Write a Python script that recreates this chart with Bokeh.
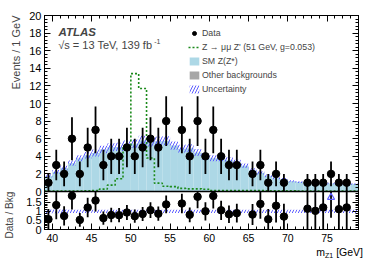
import numpy as np
from bokeh.plotting import figure
from bokeh.models import (ColumnDataSource, FixedTicker, LinearAxis, Range1d,
                          Label, Legend, LegendItem, Span, Title, Div,
                          CustomLabelingPolicy)
from bokeh.layouts import column
from bokeh.embed import file_html
from bokeh.resources import INLINE

# ---------------- data (1 GeV bins, lower edges) ----------------
bin_low = list(range(39, 79))
data_counts = [1, 3, 2, 6, 2, 5, 7, 3, 4, 4,
               5, 4, 5, 6, 5, 8, 0, 7, 4, 8,
               4, 7, 4, 3, 3, 0, 2, 3, 1, 2,
               1, 0, 0, 1, 1, 1, 2, 1, 1, 0]
sm_zz = [1.75, 2.2, 2.65, 3.2, 3.75, 4.1, 4.35, 4.75, 5.0, 5.05,
         5.3, 5.4, 5.8, 5.6, 5.7, 5.75, 5.2, 4.85, 4.9, 4.4,
         3.95, 3.75, 3.75, 3.55, 3.3, 2.9, 2.4, 2.1, 1.75, 1.5,
         1.38, 1.15, 1.05, 0.85, 0.95, 0.8, 0.88, 0.87, 0.8, 0.83]
other_bkg = [0.02, 0.02, 0.02, 0.02, 0.02, 0.02, 0.02, 0.02, 0.02, 0.02,
             0.02, 0.02, 0.02, 0.02, 0.02, 0.02, 0.02, 0.02, 0.02, 0.02,
             0.02, 0.02, 0.02, 0.02, 0.02, 0.02, 0.02, 0.02, 0.02, 0.02,
             0.02, 0.02, 0.02, 0.02, 0.02, 0.02, 0.02, 0.02, 0.02, 0.02]
signal_zp = [0.05, 0.05, 0.05, 0.05, 0.05, 0.07, 0.1, 0.27, 0.72, 1.45,
             5.1, 13.4, 11.7, 3.8, 0.95, 0.6, 0.55, 0.35, 0.3, 0.3,
             0.25, 0.12, 0.1, 0.1, 0.1, 0.1, 0.1, 0.1, 0.08, 0.08,
             0.08, 0.08, 0.06, 0.06, 0.06, 0.06, 0.06, 0.05, 0.05, 0.05]
rel_unc = [0.10, 0.10, 0.10, 0.09, 0.09, 0.09, 0.09, 0.09, 0.09, 0.09,
           0.09, 0.09, 0.09, 0.09, 0.09, 0.09, 0.09, 0.09, 0.09, 0.09,
           0.09, 0.09, 0.09, 0.09, 0.09, 0.09, 0.09, 0.09, 0.09, 0.09,
           0.09, 0.09, 0.09, 0.09, 0.09, 0.09, 0.09, 0.09, 0.09, 0.09]

x_ticks = [40, 45, 50, 55, 60, 65, 70, 75]
y_ticks = [0, 2, 4, 6, 8, 10, 12, 14, 16, 18, 20]
r_ticks = [0, 0.5, 1, 1.5]
r_tick_labels = ["0", "0.5", "1", "1.5"]

FONT = "Liberation Sans"
X0, X1 = 39, 79
YMAX = 20
RMAX = 2.1
H_TOP, H_RAT = 176, 38          # pixel heights of the two panels
C_SM = "#add8e6"
C_OTH = "#a6a6a6"
C_HATCH = "#5c5cff"
C_SIG = "#1b8a1b"

# ---------------- derived ----------------
left = np.array(bin_low, float)
right = left + 1
cent = left + 0.5
n = np.array(data_counts, float)
sm = np.array(sm_zz)
oth = np.array(other_bkg)
tot = sm + oth
u = np.array(rel_unc)
has = n > 0
err = np.sqrt(n)
ratio = np.where(has, n / tot, np.nan)
rerr = err / tot
off = has & (ratio > RMAX)
show_r = has & ~off

YMIN = -YMAX * H_RAT / H_TOP
R_TOP = RMAX * (H_TOP + H_RAT) / H_RAT


def r2main(r):
    return YMIN * (1 - r / RMAX)


hist = ColumnDataSource(dict(left=left, right=right, oth=oth, tot=tot,
                             lo=tot * (1 - u), hi=tot * (1 + u),
                             rlo=1 - u, rhi=1 + u))
pts = ColumnDataSource(dict(x=cent[has], y=n[has],
                            y0=(n - err)[has], y1=(n + err)[has]))
rpts = ColumnDataSource(dict(x=cent[show_r], y=ratio[show_r]))
rbars = ColumnDataSource(dict(x=cent[has],
                              y0=np.clip(ratio - rerr, 0, RMAX)[has],
                              y1=np.clip(ratio + rerr, 0, RMAX)[has]))
arrows = ColumnDataSource(dict(x=cent[off], y=np.full(off.sum(), RMAX - 0.32)))

sig_x = list(left) + [X1]
sig_y = list(signal_zp) + [signal_zp[-1]]

# ticks of the shared left/right axis: counts above, ratio below
y_major = list(y_ticks) + [r2main(r) for r in r_ticks]
y_minor = [round(0.4 * i, 2) for i in range(0, 51)] + \
          [r2main(0.1 * i) for i in range(0, 21)]
y_over = {r2main(r): lab for r, lab in zip(r_ticks, r_tick_labels)}
x_minor = list(range(39, 80))

NO_LABELS = CustomLabelingPolicy(code="return []")


def style_axis(ax, major, minor, labels, maj=6, mnr=3, size="11px", standoff=3):
    ax.ticker = FixedTicker(ticks=major, minor_ticks=minor)
    ax.major_tick_in = maj
    ax.major_tick_out = 0
    ax.minor_tick_in = mnr
    ax.minor_tick_out = 0
    ax.axis_line_color = "black"
    ax.major_tick_line_color = "black"
    ax.minor_tick_line_color = "black"
    ax.major_label_text_font = FONT
    ax.major_label_text_color = "black"
    if labels:
        ax.major_label_text_font_size = size
        ax.major_label_standoff = standoff
    else:
        ax.major_label_policy = NO_LABELS
        ax.major_label_text_font_size = "1px"
        ax.major_label_standoff = 0


p = figure(width=372, height=246, x_range=Range1d(X0, X1), y_range=Range1d(YMIN, YMAX),
           output_backend="svg", toolbar_location=None,
           min_border_left=44, min_border_right=14, min_border_top=15, min_border_bottom=17)
p.extra_y_ranges = {"ratio": Range1d(0, R_TOP)}
p.grid.visible = False
p.outline_line_color = "black"
p.background_fill_color = "white"
p.border_fill_color = "white"

style_axis(p.xaxis[0], x_ticks, x_minor, True, maj=6, mnr=3, size="10.5px", standoff=4)
style_axis(p.yaxis[0], y_major, y_minor, True, size="11px")
p.yaxis[0].major_label_overrides = y_over
ax_t = LinearAxis()
style_axis(ax_t, x_ticks, x_minor, False)
p.add_layout(ax_t, "above")
ax_r = LinearAxis()
style_axis(ax_r, y_major, y_minor, False)
p.add_layout(ax_r, "right")

# side texts
p.add_layout(Title(text="Events / 1 GeV", align="right", text_font=FONT,
                   text_font_size="11px", text_font_style="normal", standoff=4), "left")
p.add_layout(Title(text="Data / Bkg", align="left", text_font=FONT,
                   text_font_size="10px", text_font_style="normal",
                   offset=-9, standoff=-18), "left")

# ---- top panel ----
r_oth = p.quad(left="left", right="right", bottom=0, top="oth", source=hist,
               fill_color=C_OTH, line_color=None)
r_sm = p.quad(left="left", right="right", bottom="oth", top="tot", source=hist,
              fill_color=C_SM, line_color=None)
r_unc = p.quad(left="left", right="right", bottom="lo", top="hi", source=hist,
               fill_alpha=0, line_color=None, hatch_pattern="/",
               hatch_color=C_HATCH, hatch_scale=6, hatch_weight=1)
r_sig = p.step(x=sig_x, y=sig_y, mode="after", line_color=C_SIG,
               line_dash="2 2", line_width=1.6)
p.segment(x0="x", x1="x", y0="y0", y1="y1", source=pts,
          line_color="black", line_width=1.8)
r_dat = p.scatter(x="x", y="y", source=pts, marker="circle", size=7.5,
                  fill_color="black", line_color="black")

# ---- ratio panel ----
p.quad(left="left", right="right", bottom="rlo", top="rhi", source=hist,
       y_range_name="ratio", fill_alpha=0, line_color=None, hatch_pattern="/",
       hatch_color=C_HATCH, hatch_scale=6, hatch_weight=1)
p.segment(x0="x", x1="x", y0="y0", y1="y1", source=rbars, y_range_name="ratio",
          line_color="black", line_width=1.8)
p.scatter(x="x", y="y", source=rpts, y_range_name="ratio", marker="circle", size=7.5,
          fill_color="black", line_color="black")
p.scatter(x="x", y="y", source=arrows, y_range_name="ratio", marker="triangle", size=7,
          fill_alpha=0, line_color=C_HATCH, line_width=1.2)

p.add_layout(Span(location=0, dimension="width", line_color="black", line_width=1.3))

legend = Legend(items=[
    LegendItem(label="Data", renderers=[r_dat]),
    LegendItem(label="Z \u2192 \u03bc\u03bc Z' (51 GeV, g=0.053)", renderers=[r_sig]),
    LegendItem(label="SM Z(Z*)", renderers=[r_sm]),
    LegendItem(label="Other backgrounds", renderers=[r_oth]),
    LegendItem(label="Uncertainty", renderers=[r_unc]),
], location=(144, 135), glyph_width=12, glyph_height=10, label_height=10,
    spacing=4, padding=0, margin=0, label_standoff=2,
    label_text_font=FONT, label_text_font_size="8.8px",
    border_line_alpha=0, background_fill_alpha=0)
p.add_layout(legend)

p.add_layout(Label(x=40.79, y=18.07, text="ATLAS", text_font=FONT,
                   text_font_style="bold italic", text_font_size="11.5px",
                   text_baseline="middle"))
p.add_layout(Label(x=40.75, y=16.6, text="\u221as = 13 TeV, 139 fb", text_font=FONT,
                   text_font_size="11px", text_baseline="middle"))
p.add_layout(Label(x=52.98, y=17.05, text="-1", text_font=FONT,
                   text_font_size="7px", text_baseline="middle"))

xlab = Div(text="m<sub style='font-size:7px;line-height:0;vertical-align:-2px'>Z1</sub> [GeV]",
           width=358, height=16,
           styles={"font-family": FONT, "font-size": "10.5px", "text-align": "right",
                   "color": "black", "line-height": "12px", "padding-top": "0px",
                   "margin-top": "0px"})

layout = column(p, xlab, spacing=0)
open("out.html", "w").write(file_html(layout, INLINE))
